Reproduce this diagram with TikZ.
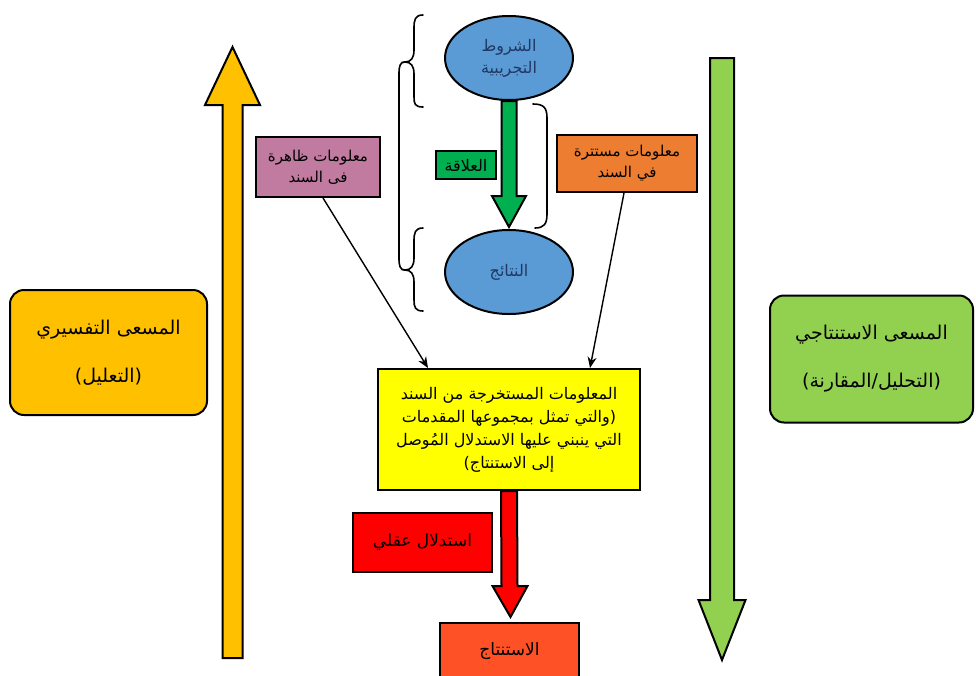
\documentclass[tikz,border=0pt]{standalone}
\usepackage{fontspec}
\newfontfamily\arabicfont[Script=Arabic]{DejaVu Sans}
\TeXXeTstate=1
\usetikzlibrary{calc,arrows.meta,shapes.geometric}
\definecolor{gold}{HTML}{FFC000}
\definecolor{lgreen}{HTML}{92D050}
\definecolor{eblue}{HTML}{5B9BD5}
\definecolor{etext}{HTML}{203864}
\definecolor{dgreen}{HTML}{00B050}
\definecolor{pinkb}{HTML}{C27BA0}
\definecolor{orangeb}{HTML}{ED7D31}
\definecolor{yellowb}{HTML}{FFFF00}
\definecolor{redb}{HTML}{FF0000}
\definecolor{conc}{HTML}{FF5126}
\newcommand\RL[1]{\beginR #1\endR}
\newcommand\blockarr[7]{% fill, x, tail, tip, half shaft, half head, head length
  \draw[line width=2pt, line join=miter, fill=#1]
    (#2-#5,#3) -- (#2-#5,#4-#7) -- (#2-#6,#4-#7) -- (#2,#4) -- (#2+#6,#4-#7) -- (#2+#5,#4-#7) -- (#2+#5,#3) -- cycle;}
\begin{document}
\begin{tikzpicture}[x=1pt,y=-1pt,
  box/.style={draw=black, line width=2pt, inner sep=0pt, align=center, font=\arabicfont\fontsize{16}{22}\selectfont},
  sidebox/.style={box, rounded corners=14pt, font=\arabicfont\fontsize{19}{26}\selectfont},
  oval/.style={draw=black, line width=2pt, fill=eblue, ellipse, minimum width=128pt, minimum height=84pt, inner sep=0pt, align=center, text=etext, font=\arabicfont\fontsize{16}{22}\selectfont},
  brace/.style={line width=1.6pt, line cap=round},
  link/.style={line width=1.4pt, -{Stealth[length=11pt,width=9pt]}}
]
\useasboundingbox (0,0) rectangle (976,675);

% side boxes
\node[sidebox, fill=gold, minimum width=197pt, minimum height=125pt] (interp) at (108.5,352.5)
  {\RL{المسعى التفسيري}\\[22pt]\RL{(التعليل)}};
\node[sidebox, fill=lgreen, minimum width=203pt, minimum height=127pt] (deduc) at (871.5,359)
  {\RL{المسعى الاستنتاجي}\\[22pt]\RL{(التحليل/المقارنة)}};

% side block arrows
\blockarr{gold}{232.5}{658}{47}{10}{27.5}{-58}
\blockarr{lgreen}{722}{58}{660}{12}{23.5}{60}

% ellipses
\node[oval] (cond) at (509,58) {\RL{الشروط}\\\RL{التجريبية}};
\node[oval] (res) at (509,272) {\RL{النتائج}};

% green block arrow between ellipses
\draw[line width=2pt, line join=miter, fill=dgreen]
  ($(cond.south)+(-7.5,0)$) -- ($(res.north)+(-7.5,-33)$) -- ($(res.north)+(-17,-33)$) -- ($(res.north)+(0,-2)$)
  -- ($(res.north)+(17,-33)$) -- ($(res.north)+(7.5,-33)$) -- ($(cond.south)+(7.5,0)$) -- cycle;
\node[box, fill=dgreen, minimum width=60pt, minimum height=28pt, font=\arabicfont\fontsize{16}{20}\selectfont] (rel) at (466,165) {\RL{العلاقة}};

% braces
\draw[brace] (423,15) .. controls (415,15) and (414,20) .. (414,28) -- (414,50)
  .. controls (414,58) and (411,62) .. (405,62) .. controls (411,62) and (414,66) .. (414,74) -- (414,97)
  .. controls (414,104) and (415,107) .. (423,107);
\draw[brace] (423,228) .. controls (415,228) and (414,233) .. (414,241) -- (414,258)
  .. controls (414,266) and (411,270) .. (405,270) .. controls (411,270) and (414,274) .. (414,282) -- (414,300)
  .. controls (414,307) and (415,311) .. (423,311);
\draw[brace] (405,62) .. controls (400,62) and (399,66) .. (399,74) -- (399,258)
  .. controls (399,266) and (400,270) .. (405,270);
\draw[brace] (533,104) .. controls (544,104) and (547,108) .. (547,118) -- (547,214)
  .. controls (547,224) and (544,228) .. (535,228);

% info boxes
\node[box, fill=pinkb, minimum width=124pt, minimum height=60pt, font=\arabicfont\fontsize{15}{21}\selectfont] (shown) at (318,167)
  {\RL{معلومات ظاهرة}\\\RL{فى السند}};
\node[box, fill=orangeb, minimum width=140pt, minimum height=57pt, font=\arabicfont\fontsize{15}{21}\selectfont] (hidden) at (627,163.5)
  {\RL{معلومات مستترة}\\\RL{في السند}};

% yellow box
\node[box, fill=yellowb, minimum width=262pt, minimum height=121pt, font=\arabicfont\fontsize{16}{23}\selectfont] (info) at (509,429.5)
  {\RL{المعلومات المستخرجة من السند}\\
   \RL{(والتي تمثل بمجموعها المقدمات}\\
   \RL{التي ينبني عليها الاستدلال المُوصل}\\
   \RL{إلى الاستنتاج)}};

\draw[link] ($(shown.south)+(5,0)$) -- ($(info.north)+(-81,0)$);
\draw[link] ($(hidden.south)+(-3,0)$) -- ($(info.north)+(81,0)$);

% red block arrow
\node[box, fill=conc, minimum width=139pt, minimum height=56pt, font=\arabicfont\fontsize{17}{22}\selectfont] (concl) at (509.5,651) {\RL{الاستنتاج}};
\draw[line width=2pt, line join=miter, fill=redb]
  ($(info.south)+(-8,0)$) -- ($(concl.north)+(-8,-36)$) -- ($(concl.north)+(-17,-36)$) -- ($(concl.north)+(1,-5)$)
  -- ($(concl.north)+(18,-36)$) -- ($(concl.north)+(8,-36)$) -- ($(info.south)+(8,0)$) -- cycle;
\node[box, fill=redb, minimum width=139pt, minimum height=59pt, font=\arabicfont\fontsize{17}{22}\selectfont] (reason) at (422.5,542.5) {\RL{استدلال عقلي}};

\end{tikzpicture}
\end{document}
